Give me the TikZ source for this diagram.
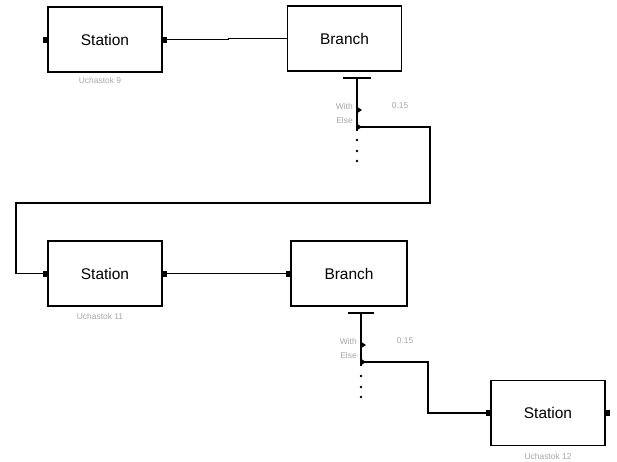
\documentclass[tikz,border=0pt]{standalone}
\usepackage{fontspec}
\setmainfont{Liberation Sans}
\usetikzlibrary{arrows.meta}

\begin{document}
\begin{tikzpicture}[
        x=0.025cm, y=-0.025cm,
        every node/.style={font=\fontsize{11}{13}\selectfont},
        block/.style={draw, line width=1.2pt, minimum width=2.85cm,
                      minimum height=1.625cm, inner sep=0pt},
        port/.style={fill=black, minimum width=0.1cm, minimum height=0.15cm,
                     inner sep=0pt},
        tag/.style={font=\fontsize{6}{7}\selectfont, text=gray!70, inner sep=0pt},
        wire/.style={line width=1pt},
        tip/.style={-{Triangle[length=4pt, width=5pt]}, line width=1pt},
      ]
      \useasboundingbox (0,0) rectangle (617,461);

      % stations and branches
      \node[block] (st9) at (105,39.5) {Station};
      \node[block] (br1) at (344.5,38.5) {Branch};
      \node[block] (st11) at (105,273.5) {Station};
      \node[block, minimum width=2.9cm] (br2) at (349,273.5) {Branch};
      \node[block] (st12) at (548,413) {Station};

      \node[port, anchor=east] (st9in) at (st9.west) {};
      \node[port, anchor=west] (st9out) at (st9.east) {};
      \node[port, anchor=east] (st11in) at (st11.west) {};
      \node[port, anchor=west] (st11out) at (st11.east) {};
      \node[port, anchor=east] (br2in) at (br2.west) {};
      \node[port, anchor=east] (st12in) at (st12.west) {};
      \node[port, anchor=west] (st12out) at (st12.east) {};

      \node[tag] (u9) at (100,80) {Uchastok 9};
      \node[tag] (u11) at (100,316) {Uchastok 11};
      \node[tag] (u12) at (548,456) {Uchastok 12};

      % first branch point
      \coordinate (b1top) at (357,78);
      \coordinate (b1with) at (357,110);
      \coordinate (b1else) at (357,127);
      \draw[wire] ([xshift=-0.35cm]b1top) -- ([xshift=0.35cm]b1top);
      \draw[wire] (b1top) -- ([yshift=-0.1cm]b1else);
      \draw[tip] (b1with) -- ++(5,0);
      \draw[tip] (b1else) -- ++(5,0);
      \foreach \y in {140,151,161}
        \fill (357,\y) circle (0.9pt);
      \node[tag, anchor=east] (w1) at (353,106) {With};
      \node[tag, anchor=east] (e1) at (353,120) {Else};
      \node[tag] (p1) at (400,106) {0.15};

      % second branch point
      \coordinate (b2top) at (361,313);
      \coordinate (b2with) at (361,345);
      \coordinate (b2else) at (361,362);
      \draw[wire] ([xshift=-0.33cm]b2top) -- ([xshift=0.33cm]b2top);
      \draw[wire] (b2top) -- ([yshift=-0.1cm]b2else);
      \draw[tip] (b2with) -- ++(5,0);
      \draw[tip] (b2else) -- ++(5,0);
      \foreach \y in {376,387,397}
        \fill (361,\y) circle (0.9pt);
      \node[tag, anchor=east] (w2) at (357,341) {With};
      \node[tag, anchor=east] (e2) at (357,355) {Else};
      \node[tag] (p2) at (405,341) {0.15};

      % connections
      \draw[wire] (st9out.east) -- ++(61,0) |- (br1.west);
      \draw[wire] (b1else) -- (430,127) -- (430,203) -- (16,203) |- (st11in.west);
      \draw[wire] (st11out.east) -- (br2in.west);
      \draw[wire] (b2else) -- (428,362) |- (st12in.west);
    \end{tikzpicture}
\end{document}
